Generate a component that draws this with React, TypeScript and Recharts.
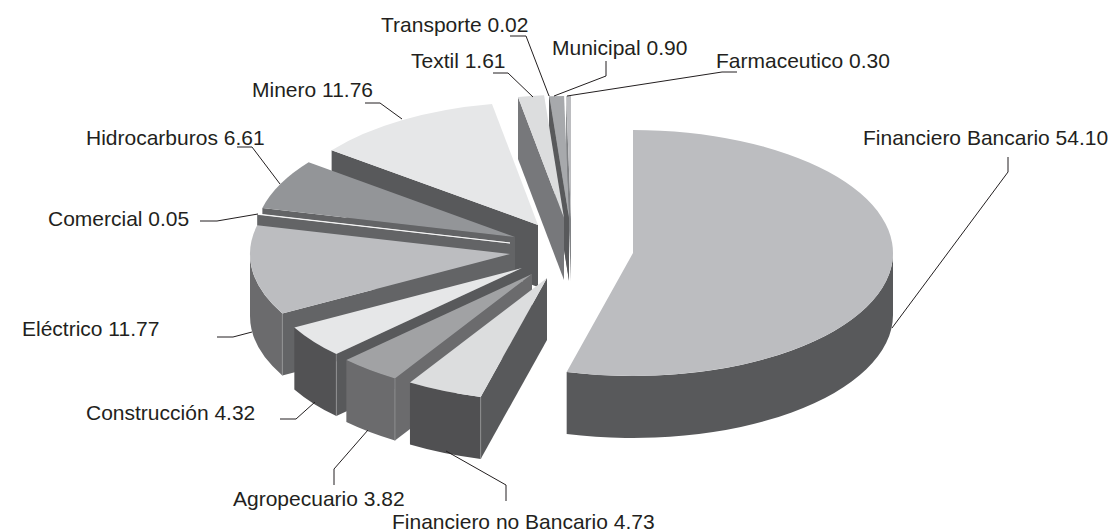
import React from "react";
import { PieChart, Pie } from "recharts";

// Listed back to front, so the library paints the front slices last.
const categories = [
  "Farmaceutico", "Municipal", "Transporte", "Textil", "Minero", "Hidrocarburos",
  "Comercial", "Eléctrico", "Construcción", "Agropecuario", "Financiero no Bancario", "Financiero Bancario",
];
const shares = [0.3, 0.9, 0.02, 1.61, 11.76, 6.61, 0.05, 11.77, 4.32, 3.82, 4.73, 54.1];
const shareLabels = ["0.30", "0.90", "0.02", "1.61", "11.76", "6.61", "0.05", "11.77", "4.32", "3.82", "4.73", "54.10"];
const chartData = categories.map((name, i) => ({ name, value: shares[i] }));

const W = 1115, H = 530;
const CX = 570, CY = 250, RX = 260, RY = 123, DEPTH = 62;

// Style and layout, by slice index
const explodeX = [1, -1, -1, -6, -32, -55, -60, -60, -48, -38, -23, 63];
const explodeY = [-31, -31, -32, -32, -25, -13, -7, 4, 18, 24, 28, 3];
const topFill = ["#bcbdc0", "#a7a9ac", "#8f9194", "#dcddde", "#e6e7e8", "#939598", "#ffffff", "#bcbdc0", "#e6e7e8", "#a1a2a4", "#dcddde", "#bcbdc0"];
const topStroke = ["none", "none", "none", "none", "none", "none", "#ffffff", "none", "none", "none", "none", "none"];
const wallFill = ["#808285", "#636466", "#58595b", "#77787b", "#58595b", "#636466", "#636466", "#636466", "#58595b", "#6b6b6d", "#58595b", "#58595b"];
const rimFill = ["#808285", "#636466", "#58595b", "#77787b", "#58595b", "#636466", "#636466", "#6b6b6d", "#525254", "#6b6b6d", "#505052", "#58595b"];
const labelX = [716, 552, 381, 411, 252, 86, 48, 22, 86, 233, 392, 863];
const labelY = [68, 55, 32, 68, 97, 145, 226, 336, 420, 506, 529, 145];
const leaders = [
  "737,72 722,72 567,96",
  "606,61 606,76 554,96",
  "510,36 526,36 549,96",
  "493,73 508,73 533,97",
  "365,103 380,103 402,119",
  "237,147 252,147 280,184",
  "200,221 217,221 258,214",
  "217,337 233,337 252,332",
  "280,419 296,419 315,402",
  "334,485 334,469 368,430",
  "506,501 506,485 446,451",
  "1008,157 1008,172 892,328",
];

const rad = (a: number) => (a * Math.PI) / 180;

function Slice(props: any) {
  const i = props.index ?? 0;
  const cx = props.cx + explodeX[i];
  const cy = props.cy + explodeY[i];
  const r = props.outerRadius;
  const rx = r, ry = (r * RY) / RX;
  const a1 = Math.min(props.startAngle, props.endAngle);
  const a2 = Math.max(props.startAngle, props.endAngle);
  const px = (a: number) => cx + rx * Math.cos(rad(a));
  const py = (a: number) => cy - ry * Math.sin(rad(a));
  const large = a2 - a1 > 180 ? 1 : 0;
  const top = `M${cx},${cy} L${px(a1)},${py(a1)} A${rx},${ry} 0 ${large} 0 ${px(a2)},${py(a2)} Z`;

  const showWall = a2 > 90 && a2 < 270;
  const wall = `M${cx},${cy} L${px(a2)},${py(a2)} L${px(a2)},${py(a2) + DEPTH} L${cx},${cy + DEPTH} Z`;

  const lo = Math.max(a1, 180), hi = Math.min(a2, 360);
  const showRim = hi > lo;
  const rim = `M${px(lo)},${py(lo)} A${rx},${ry} 0 0 0 ${px(hi)},${py(hi)} L${px(hi)},${py(hi) + DEPTH} A${rx},${ry} 0 0 1 ${px(lo)},${py(lo) + DEPTH} Z`;

  return (
    <g>
      {showWall && <path d={wall} fill={wallFill[i]} />}
      {showRim && <path d={rim} fill={rimFill[i]} />}
      {showWall && showRim && (
        <line x1={px(a2)} y1={py(a2)} x2={px(a2)} y2={py(a2) + DEPTH} stroke="#97989a" strokeWidth={0.7} />
      )}
      <path d={top} fill={topFill[i]} stroke={topStroke[i]} strokeWidth={0.8} />
    </g>
  );
}

function SliceLabel(props: any) {
  const i = props.index ?? 0;
  return (
    <text x={labelX[i]} y={labelY[i]} fill="#231f20" fontSize={21} fontFamily="'Liberation Sans', Arial, sans-serif">
      {`${categories[i]} ${shareLabels[i]}`}
    </text>
  );
}

function Leader(props: any) {
  const i = props.index ?? 0;
  return <polyline points={leaders[i]} fill="none" stroke="#231f20" strokeWidth={1} />;
}

export default function App() {
  return (
    <div style={{ position: "absolute", left: 0, top: 0, width: W, height: H, background: "#fff", overflow: "hidden" }}>
      <PieChart width={W} height={H} margin={{ top: 0, right: 0, bottom: 0, left: 0 }}>
        <Pie
          data={chartData}
          dataKey="value"
          nameKey="name"
          cx={CX}
          cy={CY}
          innerRadius={0}
          outerRadius={RX}
          startAngle={90}
          endAngle={450}
          stroke="none"
          isAnimationActive={false}
          shape={Slice}
          label={SliceLabel}
          labelLine={Leader}
        />
      </PieChart>
    </div>
  );
}
